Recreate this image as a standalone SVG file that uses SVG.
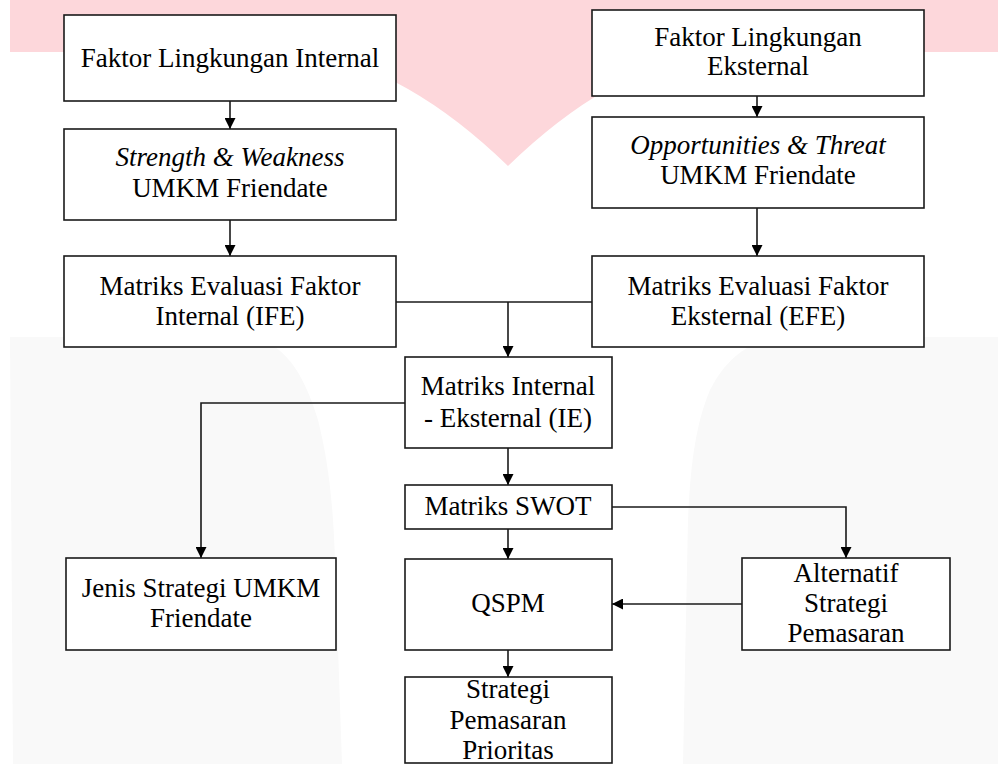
<svg xmlns="http://www.w3.org/2000/svg" width="998" height="764" viewBox="0 0 998 764">
<style>
.box{fill:#fff;stroke:#1a1a1a;stroke-width:1.6}
.t{font-family:"Liberation Serif","Times New Roman",serif;font-size:27px;fill:#000;text-anchor:middle}
.it{font-style:italic}
.c{fill:none;stroke:#1a1a1a;stroke-width:1.6}
.bgp{fill:#fdd7db}
.bgg{fill:#f9f9f9}
</style>
<defs>
<marker id="ah" markerUnits="userSpaceOnUse" markerWidth="11" markerHeight="11" refX="10" refY="5" orient="auto" viewBox="0 0 10 10">
<path d="M0,0 L10,5 L0,10 z" fill="#000"/>
</marker>
</defs>
<g id="watermark">
<path class="bgp" d="M10,0 H998 V52 H708 Q608,69 508,166 Q408,69 308,52 H10 Z"/>
<path class="bgg" d="M10,337 H240 C275,337 300,360 318,420 C328,460 333,500 335,560 L342,764 H13 Z"/>
<path class="bgg" d="M998,337 H790 C760,337 730,350 710,390 C695,425 690,470 688,520 L683,764 H998 Z"/>
</g>
<g id="connectors">
<path class="c" d="M230,101 V129" marker-end="url(#ah)"/>
<path class="c" d="M230,220 V256" marker-end="url(#ah)"/>
<path class="c" d="M757,96 V117" marker-end="url(#ah)"/>
<path class="c" d="M757,208 V256" marker-end="url(#ah)"/>
<path class="c" d="M396,302 H592"/>
<path class="c" d="M508,302 V357" marker-end="url(#ah)"/>
<path class="c" d="M405,403 H201 V558" marker-end="url(#ah)"/>
<path class="c" d="M508,448 V485" marker-end="url(#ah)"/>
<path class="c" d="M508,529 V559" marker-end="url(#ah)"/>
<path class="c" d="M612,507 H846 V558" marker-end="url(#ah)"/>
<path class="c" d="M742,604 H612" marker-end="url(#ah)"/>
<path class="c" d="M508,650 V677" marker-end="url(#ah)"/>
</g>
<g id="faktor-internal">
<rect class="box" x="64" y="15" width="332" height="86"/>
<text class="t" x="230" y="67">Faktor Lingkungan Internal</text>
</g>
<g id="strength-weakness">
<rect class="box" x="64" y="129" width="332" height="91"/>
<text class="t it" x="230" y="166">Strength &amp; Weakness</text>
<text class="t" x="230" y="197">UMKM Friendate</text>
</g>
<g id="ife">
<rect class="box" x="64" y="256" width="332" height="91"/>
<text class="t" x="230" y="295">Matriks Evaluasi Faktor</text>
<text class="t" x="230" y="325">Internal (IFE)</text>
</g>
<g id="faktor-eksternal">
<rect class="box" x="592" y="10" width="332" height="86"/>
<text class="t" x="758" y="46">Faktor Lingkungan</text>
<text class="t" x="758" y="75">Eksternal</text>
</g>
<g id="opportunities-threat">
<rect class="box" x="592" y="117" width="332" height="91"/>
<text class="t it" x="758" y="154">Opportunities &amp; Threat</text>
<text class="t" x="758" y="184">UMKM Friendate</text>
</g>
<g id="efe">
<rect class="box" x="592" y="256" width="332" height="91"/>
<text class="t" x="758" y="295">Matriks Evaluasi Faktor</text>
<text class="t" x="758" y="325">Eksternal (EFE)</text>
</g>
<g id="ie">
<rect class="box" x="405" y="357" width="207" height="91"/>
<text class="t" x="508" y="395">Matriks Internal</text>
<text class="t" x="508" y="427">- Eksternal (IE)</text>
</g>
<g id="swot">
<rect class="box" x="405" y="485" width="207" height="44"/>
<text class="t" x="508" y="515">Matriks SWOT</text>
</g>
<g id="qspm">
<rect class="box" x="405" y="559" width="207" height="91"/>
<text class="t" x="508" y="612">QSPM</text>
</g>
<g id="prioritas">
<rect class="box" x="405" y="677" width="207" height="86"/>
<text class="t" x="508" y="698">Strategi</text>
<text class="t" x="508" y="729">Pemasaran</text>
<text class="t" x="508" y="759">Prioritas</text>
</g>
<g id="jenis-strategi">
<rect class="box" x="66" y="558" width="270" height="92"/>
<text class="t" x="201" y="597">Jenis Strategi UMKM</text>
<text class="t" x="201" y="627">Friendate</text>
</g>
<g id="alternatif">
<rect class="box" x="742" y="558" width="208" height="92"/>
<text class="t" x="846" y="582">Alternatif</text>
<text class="t" x="846" y="612">Strategi</text>
<text class="t" x="846" y="642">Pemasaran</text>
</g>
</svg>
